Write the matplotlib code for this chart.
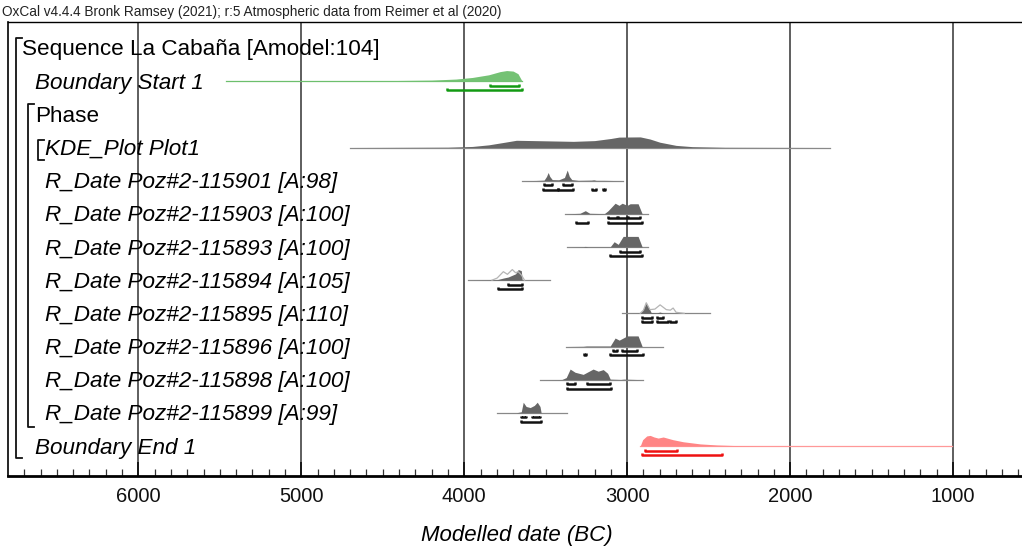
"""
OxCal-style multi-plot of the La Cabaña sequence model
"""

import matplotlib.pyplot as plt

plt.rcParams['font.family'] = ['Liberation Sans', 'DejaVu Sans']

# ── Model rows (top to bottom) ───────────────────────────────────────────────
row_labels = [
    'Sequence La Cabaña [Amodel:104]',
    'Boundary Start 1',
    'Phase',
    'KDE_Plot Plot1',
    'R_Date Poz#2-115901 [A:98]',
    'R_Date Poz#2-115903 [A:100]',
    'R_Date Poz#2-115893 [A:100]',
    'R_Date Poz#2-115894 [A:105]',
    'R_Date Poz#2-115895 [A:110]',
    'R_Date Poz#2-115896 [A:100]',
    'R_Date Poz#2-115898 [A:100]',
    'R_Date Poz#2-115899 [A:99]',
    'Boundary End 1',
]
row_italic = [False, True, False, True] + [True] * 9
row_indent = [22, 35, 35, 45] + [45] * 8 + [35]

# ── Posterior densities: (date BC, relative height) ──────────────────────────
start_dates = [5460, 4600, 4200, 4050, 3950, 3850, 3780, 3740, 3700, 3670, 3645]
start_dens  = [0, 0.03, 0.1, 0.2, 0.35, 0.6, 0.9, 1.0, 0.95, 0.7, 0]

kde_dates = [4700, 4100, 3950, 3850, 3750, 3680, 3500, 3330, 3200, 3100, 3050,
             2920, 2860, 2800, 2700, 2600, 2400, 1755]
kde_dens  = [0, 0.03, 0.1, 0.25, 0.5, 0.68, 0.63, 0.58, 0.65, 0.85, 0.98,
             1.0, 0.8, 0.5, 0.2, 0.08, 0.02, 0]

d901_dates = [3644, 3560, 3510, 3495, 3485, 3475, 3460, 3420, 3385, 3368, 3355,
              3340, 3300, 3220, 3205, 3190, 3140, 3025]
d901_dens  = [0, 0.02, 0.05, 0.4, 0.77, 0.4, 0.1, 0.08, 0.3, 1.0, 0.4,
              0.1, 0.03, 0.05, 0.08, 0.03, 0.03, 0]

d903_dates = [3380, 3290, 3257, 3230, 3140, 3117, 3074, 3050, 3031, 3000, 2982,
              2933, 2908, 2871]
d903_dens  = [0, 0.05, 0.3, 0.05, 0.02, 0.3, 1.0, 0.8, 1.0, 0.8, 0.95,
              0.95, 0, 0]

d893_dates = [3368, 3270, 3257, 3240, 3104, 3080, 3055, 3025, 2933, 2908, 2871]
d893_dens  = [0, 0.02, 0.06, 0.02, 0.02, 0.5, 0.25, 1.0, 1.0, 0, 0]

d894_dates = [3976, 3850, 3798, 3760, 3730, 3700, 3685, 3669, 3650, 3644, 3472]
d894_dens  = [0, 0.02, 0.05, 0.2, 0.3, 0.5, 0.6, 1.0, 0.9, 0, 0]
d894_prior_dates = [3830, 3798, 3760, 3735, 3705, 3685, 3669, 3650, 3630]
d894_prior_dens  = [0, 0.2, 0.8, 0.55, 1.0, 0.7, 0.8, 0.5, 0]

d895_dates = [3031, 2930, 2908, 2883, 2860, 2853, 2820, 2798, 2780, 2491]
d895_dens  = [0, 0.02, 0.2, 1.0, 0.3, 0.08, 0.05, 0.12, 0.02, 0]
d895_prior_dates = [2920, 2900, 2883, 2860, 2830, 2798, 2760, 2735, 2718,
                    2700, 2650]
d895_prior_dens  = [0, 0.3, 1.0, 0.35, 0.4, 0.8, 0.35, 0.3, 0.5, 0.1, 0]

d896_dates = [3374, 3270, 3250, 3104, 3074, 3049, 3000, 2933, 2908, 2779]
d896_dens  = [0, 0.02, 0.05, 0.05, 0.8, 0.6, 1.0, 1.0, 0, 0]

d898_dates = [3534, 3400, 3374, 3350, 3320, 3270, 3209, 3178, 3147, 3120, 3104,
              3040, 3020, 2902]
d898_dens  = [0, 0.02, 0.2, 1.0, 0.7, 0.5, 1.0, 0.8, 0.95, 0.6, 0.05,
              0.02, 0.05, 0]

d899_dates = [3798, 3680, 3650, 3638, 3620, 3595, 3570, 3552, 3535, 3528, 3368]
d899_dens  = [0, 0.01, 0.1, 1.0, 0.6, 0.5, 0.7, 1.0, 0.6, 0, 0]

end_dates = [2920, 2905, 2880, 2859, 2835, 2810, 2779, 2720, 2656, 2552, 2450,
             2350, 2150, 1006]
end_dens  = [0, 0.6, 0.95, 1.0, 0.85, 0.75, 0.85, 0.6, 0.4, 0.2, 0.1,
             0.05, 0.01, 0]

# ── Highest posterior density ranges: 68.2% and 95.4% ────────────────────────
start_r68 = [(3840, 3662)]
start_r95 = [(4104, 3644)]
d901_r68 = [(3509, 3460), (3393, 3337)]
d901_r95 = [(3515, 3423), (3423, 3331), (3215, 3190), (3147, 3135)]
d903_r68 = [(3117, 3060), (3055, 3000), (2995, 2920)]
d903_r95 = [(3313, 3240), (3117, 2908)]
d893_r68 = [(3043, 2920)]
d893_r95 = [(3104, 2908)]
d894_r68 = [(3730, 3644)]
d894_r95 = [(3791, 3644)]
d895_r68 = [(2908, 2847), (2816, 2779)]
d895_r95 = [(2908, 2847), (2816, 2748), (2736, 2699)]
d896_r68 = [(3086, 3061), (3031, 2939)]
d896_r95 = [(3262, 3254), (3104, 2902)]
d898_r68 = [(3368, 3319), (3245, 3104)]
d898_r95 = [(3368, 3098)]
d899_r68 = [(3650, 3620), (3583, 3534)]
d899_r95 = [(3650, 3528)]
end_r68 = [(2890, 2693)]
end_r95 = [(2908, 2417)]

# each entry: row, dates, densities, 68% ranges, 95% ranges, (fill, line, bracket)
green = ('#74c274', '#6cbf6c', '#129a12')
grey = ('#666666', '#8a8a8a', '#111111')
red = ('#ff8585', '#ff9a9a', '#ee1111')
dists = [
    (1, start_dates, start_dens, start_r68, start_r95, green),
    (3, kde_dates, kde_dens, [], [], grey),
    (4, d901_dates, d901_dens, d901_r68, d901_r95, grey),
    (5, d903_dates, d903_dens, d903_r68, d903_r95, grey),
    (6, d893_dates, d893_dens, d893_r68, d893_r95, grey),
    (7, d894_dates, d894_dens, d894_r68, d894_r95, grey),
    (8, d895_dates, d895_dens, d895_r68, d895_r95, grey),
    (9, d896_dates, d896_dens, d896_r68, d896_r95, grey),
    (10, d898_dates, d898_dens, d898_r68, d898_r95, grey),
    (11, d899_dates, d899_dens, d899_r68, d899_r95, grey),
    (12, end_dates, end_dens, end_r68, end_r95, red),
]
priors = [
    (7, d894_prior_dates, d894_prior_dens),
    (8, d895_prior_dates, d895_prior_dens),
]

major_ticks = [6000, 5000, 4000, 3000, 2000, 1000]
minor_ticks = list(range(6700, 500, -100))

# ── Figure ───────────────────────────────────────────────────────────────────
W, H = 1022, 549
fig = plt.figure(figsize=(W / 100, H / 100), dpi=100)
ax = fig.add_axes([8 / W, 1 - 476 / H, (W - 8) / W, (476 - 22) / H])

ax.set_xlim(6800, 577)
ax.set_ylim(12.904, -0.784)
peak_h = 0.32  # tallest peak in row units

for d in major_ticks:
    ax.axvline(d, color='#333333', lw=1.1, zorder=1)

for row, xs, ys, r68, r95, (fc, lc, bc) in dists:
    top = [row - peak_h * v for v in ys]
    ax.plot([xs[0], xs[-1]], [row, row], color=lc, lw=0.9, zorder=2)
    ax.fill_between(xs, row, top, color=fc, lw=0, zorder=3)
    for k, ranges in enumerate([r68, r95]):
        yb = row + 0.14 + 0.13 * k
        for a, b in ranges:
            ax.plot([a, a, b, b], [yb - 0.06, yb, yb, yb - 0.06],
                    color=bc, lw=1.8, solid_capstyle='butt', zorder=4)

for row, xs, ys in priors:
    ax.plot(xs, [row - peak_h * v for v in ys], color='#b5b5b5', lw=0.9,
            zorder=3.5)

# ── Row labels and grouping brackets ─────────────────────────────────────────
to_x = ax.transData.inverted()


def px_to_date(px):
    return to_x.transform(ax.transData.transform((6800, 0)) + (px - 8, 0))[0]


for i, (lab, it, px) in enumerate(zip(row_labels, row_italic, row_indent)):
    ax.text(px_to_date(px), i + 0.06, lab, fontsize=16.2,
            style='italic' if it else 'normal',
            va='center', ha='left', zorder=5)


def bracket(px, r0, r1, tick=6):
    x0, x1 = px_to_date(px), px_to_date(px + tick)
    ax.plot([x1, x0, x0, x1], [r0, r0, r1, r1], color='#111111', lw=1.3,
            zorder=5)


bracket(16, -0.3, 12.36)
bracket(28, 1.7, 11.43)
bracket(38, 2.76, 3.38)

# ── Axes styling ─────────────────────────────────────────────────────────────
ax.set_xticks(major_ticks)
ax.set_xticklabels([str(t) for t in major_ticks])
ax.set_xticks(minor_ticks, minor=True)
ax.set_yticks([])
ax.tick_params(axis='x', which='major', direction='in', length=10, width=1.3,
               labelsize=14.5, pad=8, colors='#111111')
ax.tick_params(axis='x', which='minor', direction='in', length=5, width=0.9,
               colors='#333333')
ax.spines['right'].set_visible(False)
ax.spines['bottom'].set_linewidth(2)
ax.spines['top'].set_linewidth(1)
ax.spines['left'].set_linewidth(1.2)

fig.text(517 / W, 1 - 535 / H, 'Modelled date (BC)', fontsize=16,
         style='italic', ha='center', va='center')
fig.text(2 / W, 1 - 12 / H,
         'OxCal v4.4.4 Bronk Ramsey (2021); r:5 Atmospheric data from Reimer et al (2020)',
         fontsize=9.8, va='center', ha='left', color='#222222')

fig.savefig('out.png', dpi=100)
